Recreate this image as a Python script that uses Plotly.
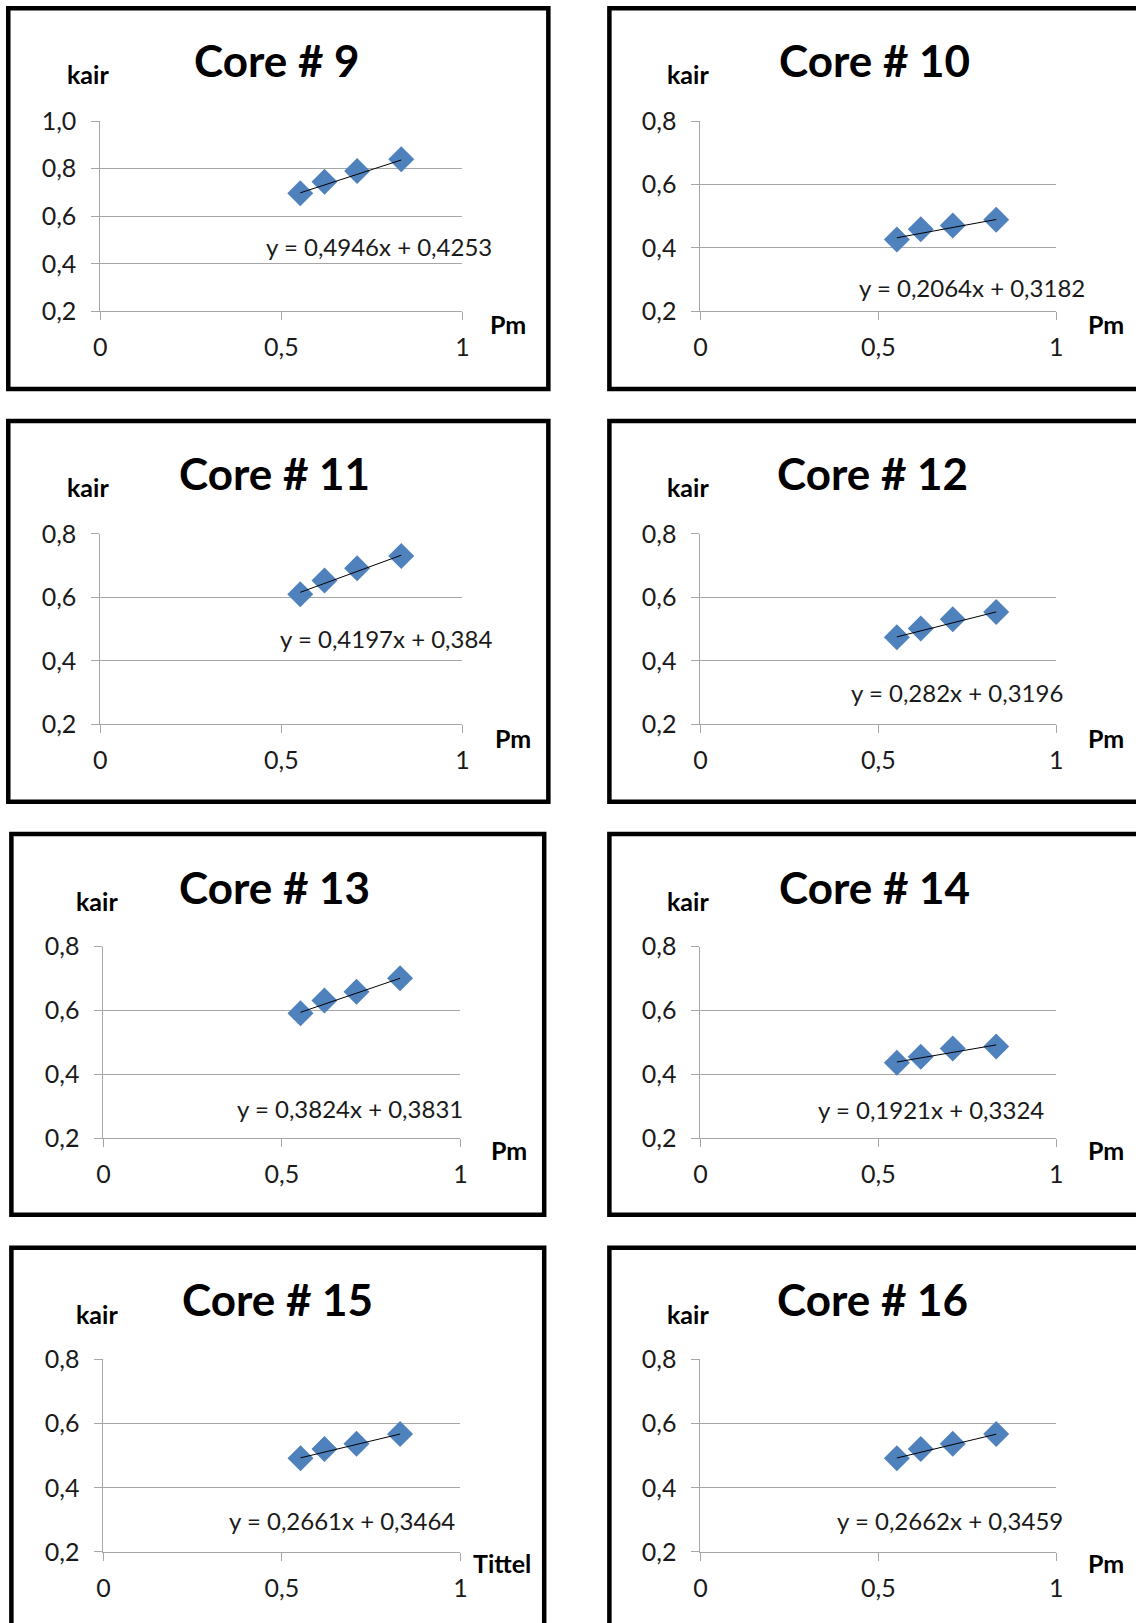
import plotly.graph_objects as go

W, H = 1136, 1623

# ---- data -------------------------------------------------------------
core_names = ["Core # 9", "Core # 10", "Core # 11", "Core # 12",
              "Core # 13", "Core # 14", "Core # 15", "Core # 16"]

pm_values = [0.552, 0.619, 0.709, 0.831]

kair_core9 = [0.697, 0.745, 0.790, 0.839]
kair_core10 = [0.427, 0.459, 0.471, 0.489]
kair_core11 = [0.610, 0.653, 0.692, 0.730]
kair_core12 = [0.474, 0.502, 0.531, 0.554]
kair_core13 = [0.591, 0.631, 0.659, 0.701]
kair_core14 = [0.436, 0.455, 0.481, 0.487]
kair_core15 = [0.492, 0.521, 0.537, 0.568]
kair_core16 = [0.492, 0.521, 0.537, 0.568]

kair_series = [kair_core9, kair_core10, kair_core11, kair_core12,
               kair_core13, kair_core14, kair_core15, kair_core16]

fit_slopes = [0.4946, 0.2064, 0.4197, 0.282, 0.3824, 0.1921, 0.2661, 0.2662]
fit_intercepts = [0.4253, 0.3182, 0.384, 0.3196, 0.3831, 0.3324, 0.3464, 0.3459]

y_axis_max = [1.0, 0.8, 0.8, 0.8, 0.8, 0.8, 0.8, 0.8]
x_axis_titles = ["Pm", "Pm", "Pm", "Pm", "Pm", "Pm", "Tittel", "Pm"]
y_axis_title = "kair"

# where each equation label sits, in the panel's own data units
eq_label_x = [0.770, 0.763, 0.789, 0.722, 0.691, 0.647, 0.668, 0.701]
eq_label_y = [0.474, 0.275, 0.471, 0.301, 0.294, 0.288, 0.297, 0.297]

# ---- panel geometry (pixels at 1098-wide scale) -----------------------
S = 1136 / 1098
col_plot_x = [[(97, 447), (677, 1021)], [(97, 447), (677, 1021)],
              [(100, 445), (677, 1021)], [(100, 445), (677, 1021)]]
row_plot_y = [(117, 301), (516, 700), (915, 1100), (1314, 1500)]
row_box_y = [(8, 376), (407, 775), (806, 1174), (1206, 1700)]
col_box_x = [[(8, 530), (589, 1200)], [(8, 530), (589, 1200)],
             [(11, 526), (589, 1200)], [(11, 526), (589, 1200)]]
title_x = [[268, 845], [265, 843], [265, 845], [268, 843]]
title_y = [58, 457, 857, 1256]
kair_x = [[85, 665], [85, 665], [94, 665], [94, 665]]
kair_y = [72, 471, 871, 1270]
xt_x = [[491, 1069], [496, 1069], [492, 1069], [485, 1069]]
xt_y = [313, 713, 1112, 1511]

FONT = "Lato, 'Open Sans', sans-serif"
GRID = "#A6A6A6"
BLUE = "#4F81BD"


def px(x):
    return x * S / W


def py(y):
    return 1 - y * S / H


fig = go.Figure()
annotations = []
shapes = []

for i in range(8):
    r, c = divmod(i, 2)
    n = "" if i == 0 else str(i + 1)
    xa, ya = "x" + n, "y" + n
    x0p, x1p = col_plot_x[r][c]
    y0p, y1p = row_plot_y[r]

    fig.add_trace(go.Scatter(
        x=pm_values, y=kair_series[i], mode="markers",
        marker=dict(symbol="diamond", size=20, color=BLUE,
                    line=dict(width=0)),
        xaxis=xa, yaxis=ya, showlegend=False, cliponaxis=False))

    xs = [min(pm_values), max(pm_values)]
    ys = [fit_slopes[i] * v + fit_intercepts[i] for v in xs]
    fig.add_trace(go.Scatter(
        x=xs, y=ys, mode="lines", line=dict(color="black", width=1),
        xaxis=xa, yaxis=ya, showlegend=False, cliponaxis=False))

    ymax = y_axis_max[i]
    yt = [round(0.2 + 0.2 * k, 1) for k in range(int(round((ymax - 0.2) / 0.2)) + 1)]

    axis_common = dict(
        showline=True, linecolor=GRID, linewidth=1,
        ticks="outside", ticklen=8, tickcolor=GRID, tickwidth=1,
        tickfont=dict(family=FONT, size=25, color="#1a1a1a"),
        zeroline=False, fixedrange=True, automargin=False,
    )
    fig.layout["xaxis" + n] = dict(
        axis_common, domain=[px(x0p), px(x1p)], range=[0, 1],
        tickvals=[0, 0.5, 1], showgrid=False, anchor=ya,
        ticklabelstandoff=6)
    fig.layout["yaxis" + n] = dict(
        axis_common, domain=[py(y1p), py(y0p)], range=[0.2, ymax],
        tickvals=yt, tickformat=".1f", showgrid=True, gridcolor=GRID,
        gridwidth=1, anchor=xa, ticklabelstandoff=10)

    annotations.append(dict(
        x=eq_label_x[i], y=eq_label_y[i], xref=xa, yref=ya,
        text="y = {}x + {}".format(str(fit_slopes[i]).replace(".", ","),
                                     str(fit_intercepts[i]).replace(".", ",")),
        showarrow=False, font=dict(family=FONT, size=24, color="#1a1a1a"),
        xanchor="center", yanchor="middle"))

    annotations.append(dict(
        x=px(title_x[r][c]), y=py(title_y[r]), xref="paper", yref="paper",
        text="<b>" + core_names[i] + "</b>", showarrow=False,
        font=dict(family=FONT, size=44, color="black"),
        xanchor="center", yanchor="middle"))
    annotations.append(dict(
        x=px(kair_x[r][c]), y=py(kair_y[r]), xref="paper", yref="paper",
        text="<b>" + y_axis_title + "</b>", showarrow=False,
        font=dict(family=FONT, size=25, color="black"),
        xanchor="center", yanchor="middle"))
    annotations.append(dict(
        x=px(xt_x[r][c]), y=py(xt_y[r]), xref="paper", yref="paper",
        text="<b>" + x_axis_titles[i] + "</b>", showarrow=False,
        font=dict(family=FONT, size=25, color="black"),
        xanchor="center", yanchor="middle"))

    bx0, bx1 = col_box_x[r][c]
    by0, by1 = row_box_y[r]
    shapes.append(dict(
        type="rect", xref="paper", yref="paper",
        x0=px(bx0), x1=px(bx1), y0=py(by1), y1=py(by0),
        line=dict(color="black", width=4.5), fillcolor="rgba(0,0,0,0)",
        layer="below"))

fig.update_layout(
    width=W, height=H,
    margin=dict(l=0, r=0, t=0, b=0, pad=0, autoexpand=False),
    paper_bgcolor="white", plot_bgcolor="white",
    separators=", ", annotations=annotations, shapes=shapes,
    font=dict(family=FONT),
)

# keep the figure flush with the page corner
fig.write_html("out.html", include_plotlyjs=True, full_html=True,
               config={"displayModeBar": False},
               post_script="document.body.style.margin='0';"
                           "document.body.style.padding='0';"
                           "document.body.style.overflow='hidden';")
